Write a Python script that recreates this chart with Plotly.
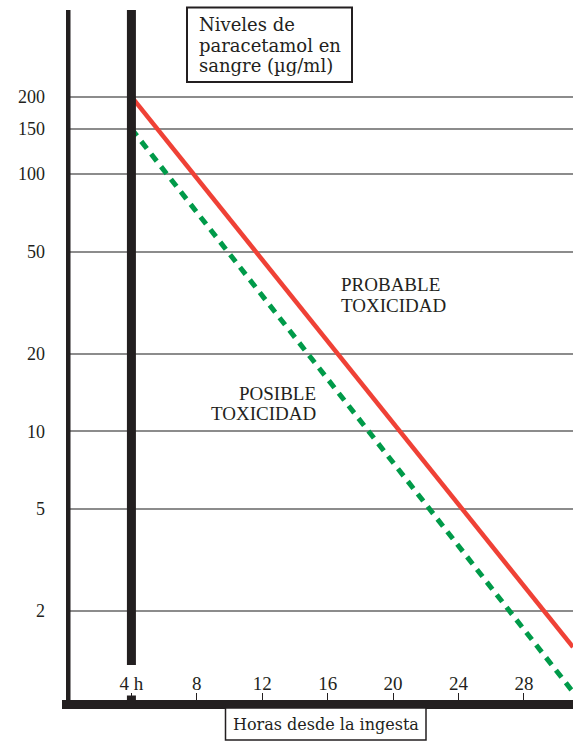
import plotly.graph_objects as go

# ---- data ----
hours_ticks = [4, 8, 12, 16, 20, 24, 28]
hours_labels = ["4 h", "8", "12", "16", "20", "24", "28"]
level_ticks = [2, 5, 10, 20, 50, 100, 150, 200]
level_labels = ["2", "5", "10", "20", "50", "100", "150", "200"]

probable_hours = [4, 31]
probable_levels = [200, 1.45]
possible_hours = [4, 31]
possible_levels = [150, 0.97]

# ---- layout geometry (pixels) ----
W, H = 573, 742
L, R, T, B = 66, 0, 10, 38
PW, PH = W - L - R, H - T - B

def px(xp):
    return (xp - L) / PW

def py(yp):
    return (H - B - yp) / PH

BLACK = "#231F20"
RED = "#EF4136"
GREEN = "#009A49"
GRID = "#8C8C8C"

fig = go.Figure()
fig.add_trace(go.Scatter(x=probable_hours, y=probable_levels, mode="lines",
                         line=dict(color=RED, width=4.5), hoverinfo="skip"))
fig.add_trace(go.Scatter(x=possible_hours, y=possible_levels, mode="lines",
                         line=dict(color=GREEN, width=5, dash="9px,7px"), hoverinfo="skip"))

shapes = [
    # left axis bar
    dict(type="line", xref="x", yref="paper", x0=0, x1=0, y0=py(709), y1=1,
         line=dict(color=BLACK, width=9), layer="above"),
    # bottom axis bar
    dict(type="line", xref="paper", yref="paper", x0=px(62), x1=1, y0=py(704.5), y1=py(704.5),
         line=dict(color=BLACK, width=9), layer="above"),
    # 4 h bar
    dict(type="line", xref="x", yref="paper", x0=4, x1=4, y0=py(665), y1=1,
         line=dict(color=BLACK, width=9), layer="above"),
    # 4 h stub
    dict(type="line", xref="x", yref="paper", x0=4, x1=4, y0=py(704), y1=py(695.5),
         line=dict(color=BLACK, width=9), layer="above"),
    # title box
    dict(type="rect", xref="paper", yref="paper", x0=px(187), x1=px(352), y0=py(82), y1=py(7.5),
         line=dict(color=BLACK, width=2), fillcolor="white", layer="above"),
    # x label box
    dict(type="rect", xref="paper", yref="paper", x0=px(225.5), x1=px(426), y0=py(740), y1=py(708),
         line=dict(color=BLACK, width=1.5), fillcolor="white", layer="above"),
]

SERIF = "DejaVu Serif"
TIMES = "Liberation Serif"

annotations = []
for txt, yc in [("Niveles de", 24), ("paracetamol en", 45), ("sangre (\u00b5g/ml)", 66)]:
    annotations.append(dict(text=txt, xref="paper", yref="paper", x=px(196.5), y=py(yc),
                            xanchor="left", yanchor="middle", showarrow=False,
                            font=dict(family=SERIF, size=18, color=BLACK)))
annotations.append(dict(text="Horas desde la ingesta", xref="paper", yref="paper",
                        x=px(326), y=py(724), xanchor="center", yanchor="middle", showarrow=False,
                        font=dict(family=SERIF, size=16, color=BLACK)))
for txt, yc in [("PROBABLE", 285), ("TOXICIDAD", 305.5)]:
    annotations.append(dict(text=txt, xref="paper", yref="paper", x=px(339), y=py(yc),
                            xanchor="left", yanchor="middle", showarrow=False,
                            font=dict(family=TIMES, size=19, color=BLACK)))
for txt, yc in [("POSIBLE", 393), ("TOXICIDAD", 413.5)]:
    annotations.append(dict(text=txt, xref="paper", yref="paper", x=px(318), y=py(yc),
                            xanchor="right", yanchor="middle", showarrow=False,
                            font=dict(family=TIMES, size=19, color=BLACK)))

fig.update_layout(
    width=W, height=H,
    margin=dict(l=L, r=R, t=T, b=B, pad=0, autoexpand=False),
    paper_bgcolor="white", plot_bgcolor="white",
    showlegend=False,
    shapes=shapes,
    annotations=annotations,
    xaxis=dict(range=[0, 31], tickvals=hours_ticks, ticktext=hours_labels,
               showgrid=False, zeroline=False, showline=False, automargin=False,
               ticks="inside", ticklen=11, tickwidth=1, tickcolor=BLACK,
               ticklabelposition="inside",
               tickfont=dict(family=TIMES, size=19, color=BLACK)),
    yaxis=dict(type="log", range=[-0.06, 2.638], tickvals=level_ticks, ticktext=level_labels,
               showgrid=True, gridcolor=GRID, gridwidth=1.5, zeroline=False, showline=False,
               automargin=False, ticks="", ticklabelstandoff=20,
               tickfont=dict(family=TIMES, size=18, color=BLACK)),
)

fig.write_html("out.html", config={"displayModeBar": False},
               post_script="document.body.style.margin='0';document.body.style.overflow='hidden';")
